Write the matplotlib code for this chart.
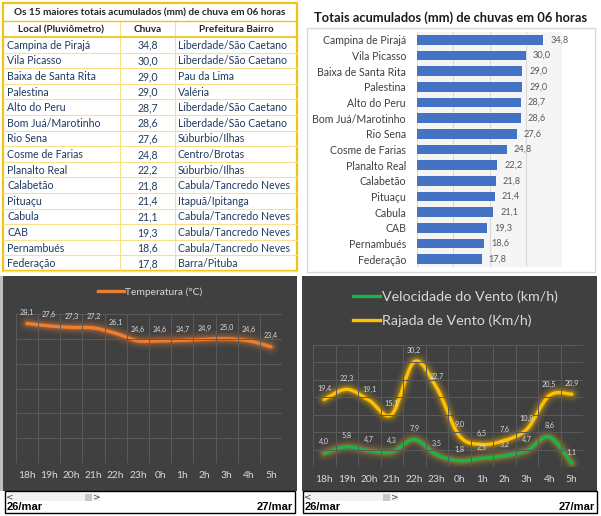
import matplotlib
matplotlib.use("Agg")
import matplotlib.pyplot as plt
import numpy as np
from matplotlib.path import Path
from matplotlib.patches import PathPatch, Rectangle

# ---- data ----
locais = ["Campina de Pirajá", "Vila Picasso", "Baixa de Santa Rita", "Palestina",
          "Alto do Peru", "Bom Juá/Marotinho", "Rio Sena", "Cosme de Farias",
          "Planalto Real", "Calabetão", "Pituaçu", "Cabula", "CAB", "Pernambués",
          "Federação"]
chuva = [34.8, 30.0, 29.0, 29.0, 28.7, 28.6, 27.6, 24.8, 22.2, 21.8, 21.4, 21.1,
         19.3, 18.6, 17.8]
bairros = ["Liberdade/São Caetano", "Liberdade/São Caetano", "Pau da Lima", "Valéria",
           "Liberdade/São Caetano", "Liberdade/São Caetano", "Súburbio/Ilhas",
           "Centro/Brotas", "Súburbio/Ilhas", "Cabula/Tancredo Neves", "Itapuã/Ipitanga",
           "Cabula/Tancredo Neves", "Cabula/Tancredo Neves", "Cabula/Tancredo Neves",
           "Barra/Pituba"]

horas = ["18h", "19h", "20h", "21h", "22h", "23h", "0h", "1h", "2h", "3h", "4h", "5h"]
temperatura = [28.1, 27.6, 27.3, 27.2, 26.1, 24.6, 24.6, 24.7, 24.9, 25.0, 24.6, 23.4]
velocidade = [4.0, 5.8, 4.7, 4.3, 7.9, 3.5, 1.8, 2.5, 3.2, 4.7, 8.6, 1.1]
rajada = [19.4, 22.3, 19.1, 15.1, 30.2, 22.7, 9.0, 6.5, 7.6, 10.8, 20.5, 20.9]

W, H = 601, 516
plt.rcParams['font.family'] = ['Lato', 'DejaVu Sans']

fig = plt.figure(figsize=(W / 100, H / 100), dpi=100)


def add_ax(x0, y0, x1, y1, **kw):
    return fig.add_axes([x0 / W, 1 - y1 / H, (x1 - x0) / W, (y1 - y0) / H], **kw)


def br(v):
    return f"{v:.1f}".replace(".", ",")


def smooth_path(xs, ys):
    """ Catmull-Rom style bezier through the points, like Excel's smoothed lines """
    pts = np.column_stack([xs, ys]).astype(float)
    n = len(pts)
    verts = [pts[0]]
    codes = [Path.MOVETO]
    for i in range(n - 1):
        p0 = pts[max(i - 1, 0)]
        p1 = pts[i]
        p2 = pts[i + 1]
        p3 = pts[min(i + 2, n - 1)]
        verts += [p1 + (p2 - p0) / 6, p2 - (p3 - p1) / 6, p2]
        codes += [Path.CURVE4] * 3
    return Path(verts, codes)


def glow_line(ax, xs, ys, color, glow):
    path = smooth_path(xs, ys)
    for lw, a in [(12, 0.06), (9, 0.09), (6.5, 0.14), (4.5, 0.22)]:
        ax.add_patch(PathPatch(path, fill=False, edgecolor=glow, lw=lw, alpha=a,
                               capstyle='round', joinstyle='round'))
    ax.add_patch(PathPatch(path, fill=False, edgecolor=color, lw=2.4,
                           capstyle='round', joinstyle='round'))


# ---- canvas in pixel coords ----
canvas = add_ax(0, 0, W, H)
canvas.set_xlim(0, W)
canvas.set_ylim(H, 0)
canvas.axis('off')
canvas.set_zorder(0)

# ---- table ----
gold = '#F2C314'
pale = '#F9E08A'
tx0, tx1 = 3, 297
cols = [3, 120, 175, 297]
row_h = 15.6
y_title0, y_head0, y_data0 = 3, 21, 37
y_end = y_data0 + row_h * len(locais)

for i in range(len(locais) + 1):
    y = y_data0 + i * row_h
    canvas.plot([tx0, tx1], [y, y], color=pale, lw=0.8)
for c in cols[1:-1]:
    canvas.plot([c, c], [y_head0, y_end], color=pale, lw=0.8)
canvas.plot([tx0, tx1], [y_head0, y_head0], color=gold, lw=1.0)
canvas.plot([tx0, tx1], [y_data0, y_data0], color=gold, lw=1.2)
canvas.add_patch(Rectangle((tx0, y_title0), tx1 - tx0, y_end - y_title0,
                           fill=False, edgecolor=gold, lw=1.6))

canvas.text((tx0 + tx1) / 2, (y_title0 + y_head0) / 2 + 0.5,
            "Os 15 maiores totais acumulados (mm) de chuva em 06 horas",
            ha='center', va='center', fontsize=7.2, fontweight='bold', color='#262626')
heads = ["Local (Pluviômetro)", "Chuva", "Prefeitura Bairro"]
for k, h in enumerate(heads):
    canvas.text((cols[k] + cols[k + 1]) / 2, (y_head0 + y_data0) / 2 + 0.5, h,
                ha='center', va='center', fontsize=7.2, fontweight='bold', color='#262626')
for i, (loc, v, b) in enumerate(zip(locais, chuva, bairros)):
    yc = y_data0 + (i + 0.5) * row_h + 0.5
    canvas.text(cols[0] + 4, yc, loc, ha='left', va='center', fontsize=7.6, color='#1F3A60')
    canvas.text((cols[1] + cols[2]) / 2, yc, br(v), ha='center', va='center',
                fontsize=7.6, color='#1F3A60')
    canvas.text(cols[2] + 3, yc, b, ha='left', va='center', fontsize=7.6, color='#1F3A60')

# ---- bar chart frame & title ----
canvas.add_patch(Rectangle((307, 28), 288, 244, fill=False, edgecolor='#D9D9D9', lw=1))
canvas.text(451, 18, "Totais acumulados (mm) de chuvas em 06 horas", ha='center',
            va='center', fontsize=9.3, fontweight='bold', color='#1A1A1A')

axb = add_ax(417, 32, 562, 267)
axb.set_facecolor('#F5F5F5')
ypos = np.arange(len(locais))
bars = axb.barh(ypos, chuva, height=0.6, color='#4472C4', zorder=3)
axb.set_xlim(0, 40)
axb.set_ylim(len(locais) - 0.5, -0.5)
axb.set_xticks([0, 10, 20, 30, 40])
axb.xaxis.grid(True, color='#D9D9D9', lw=0.8, zorder=0)
axb.set_axisbelow(True)
axb.tick_params(axis='x', length=0, labelbottom=False)
axb.tick_params(axis='y', length=0, pad=8, labelsize=7.6, labelcolor='#404040')
axb.set_yticks(ypos)
axb.set_yticklabels(locais)
for s in axb.spines.values():
    s.set_visible(False)
axb.bar_label(bars, labels=[br(v) for v in chuva], padding=5, fontsize=6.6,
              color='#595959')

# ---- dark panels ----
dark = '#404040'
grid_dark = '#5A5A5A'
label_grey = '#D9D9D9'
canvas.add_patch(Rectangle((0, 276), 3, 215, color='#BFBFBF', lw=0))
for px0, px1 in [(3, 297), (302, 597)]:
    canvas.add_patch(Rectangle((px0, 276), px1 - px0, 215, color=dark, lw=0))


def bottom_strip(x0, x1):
    canvas.add_patch(Rectangle((x0, 491), x1 - x0, 22, facecolor='white',
                               edgecolor='black', lw=1))
    canvas.add_patch(Rectangle((x0 + 3, 493), 92, 8, facecolor='#F2F2F2', lw=0))
    canvas.add_patch(Rectangle((x0 + 80, 493.5), 7, 7, facecolor='#C8C8C8', lw=0))
    canvas.text(x0 + 5, 497, "<", ha='center', va='center', fontsize=6.5,
                color='#404040', family='DejaVu Sans')
    canvas.text(x0 + 92, 497, ">", ha='center', va='center', fontsize=6.5,
                color='#404040', family='DejaVu Sans')
    canvas.text(x0 + 2, 507.5, "26/mar", ha='left', va='center', fontsize=8,
                fontweight='bold', color='black', family='Liberation Sans')
    canvas.text(x1 - 2, 507.5, "27/mar", ha='right', va='center', fontsize=8,
                fontweight='bold', color='black', family='Liberation Sans')


bottom_strip(5, 295)
bottom_strip(303, 597)

xs = np.arange(len(horas))


def style_dark(ax, ymax):
    ax.set_facecolor('none')
    ax.set_xlim(-0.5, len(horas) - 0.5)
    ax.set_ylim(0, ymax)
    ax.set_yticks(np.arange(0, ymax + 1, 5))
    ax.set_xticks(xs)
    ax.set_xticklabels(horas)
    ax.set_xticks(np.arange(-0.5, len(horas), 1), minor=True)
    ax.yaxis.grid(True, color=grid_dark, lw=0.7)
    ax.xaxis.grid(True, which='minor', color=grid_dark, lw=0.7)
    ax.tick_params(which='both', length=0)
    ax.tick_params(axis='y', labelleft=False)
    ax.tick_params(axis='x', labelsize=7.4, labelcolor=label_grey, pad=6)
    for s in ax.spines.values():
        s.set_visible(False)


def point_labels(ax, values, dy=8):
    for x, v in zip(xs, values):
        ax.annotate(br(v), (x, v), xytext=(0, dy), textcoords='offset points',
                    ha='center', va='center', fontsize=5.2, color=label_grey)


# ---- temperature ----
axt = add_ax(16, 314, 282, 463)
style_dark(axt, 30)
glow_line(axt, xs, temperatura, '#ED7D31', '#ED7D31')
point_labels(axt, temperatura)
axt.plot([], [], color='#ED7D31', lw=2.4, label="Temperatura (°C)")
axt.legend(loc='center', bbox_to_anchor=(150 / W, 1 - 292 / H), bbox_transform=fig.transFigure,
           frameon=False, fontsize=7.4, labelcolor=label_grey, handlelength=2.6,
           handletextpad=0.1)

# ---- wind ----
axw = add_ax(313, 345, 583, 467)
style_dark(axw, 35)
glow_line(axw, xs, rajada, '#FFC000', '#FFC000')
glow_line(axw, xs, velocidade, '#1DB24B', '#C9A227')
point_labels(axw, rajada)
point_labels(axw, velocidade)
axw.plot([], [], color='#1DB24B', lw=2.4, label="Velocidade do Vento (km/h)")
axw.plot([], [], color='#FFC000', lw=2.4, label="Rajada de Vento (Km/h)")
axw.legend(loc='upper left', bbox_to_anchor=(346 / W, 1 - 283 / H), bbox_transform=fig.transFigure,
           frameon=False, fontsize=10.3, labelcolor=label_grey, handlelength=1.9,
           handletextpad=0.1, labelspacing=0.8, borderpad=0)

fig.savefig("out.png", dpi=100)
